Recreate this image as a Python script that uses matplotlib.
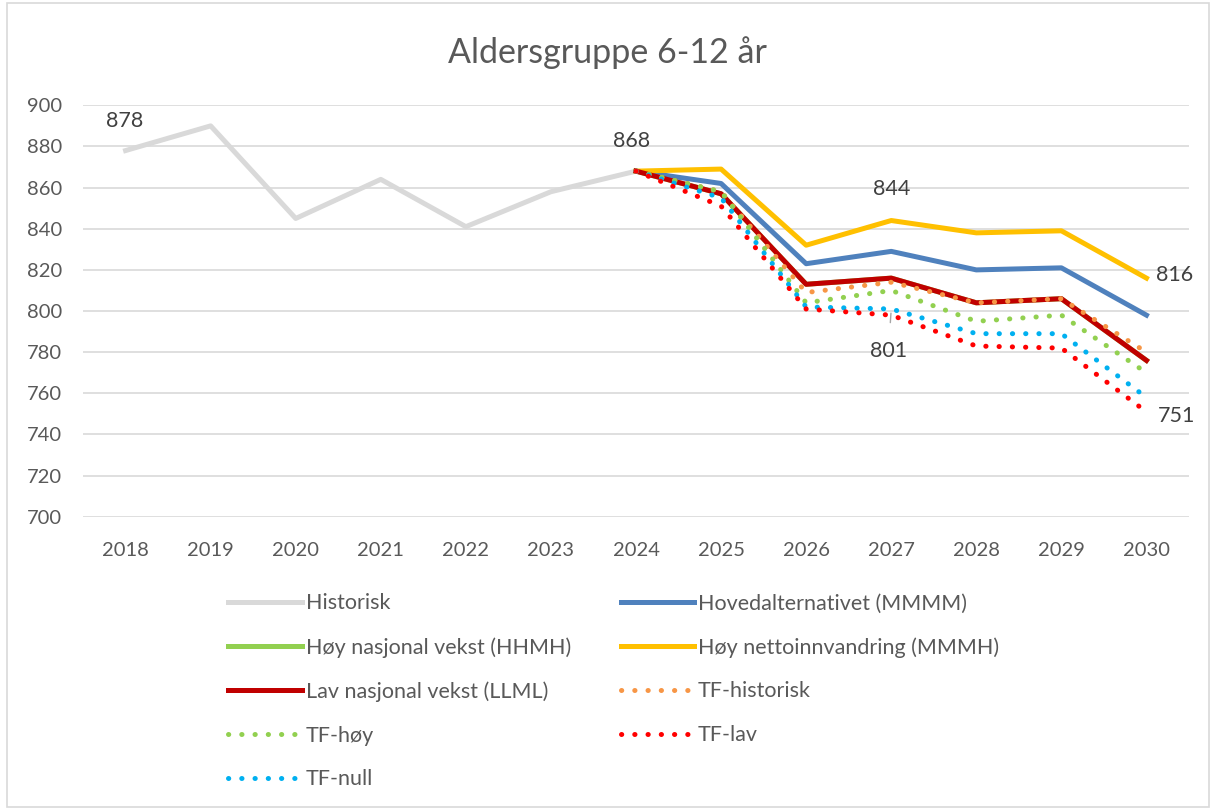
import numpy as np
import matplotlib.pyplot as plt
from matplotlib.patches import Rectangle

plt.rcParams['font.family'] = ['Lato', 'DejaVu Sans']

# ---- data ----
years_hist = [2018, 2019, 2020, 2021, 2022, 2023, 2024]
historisk = [878, 890, 845, 864, 841, 858, 868]

years_proj = [2024, 2025, 2026, 2027, 2028, 2029, 2030]
hoved = [868, 862, 823, 829, 820, 821, 798]
hoy_nasjonal = [868, 857, 813, 816, 804, 806, 776]
hoy_netto = [868, 869, 832, 844, 838, 839, 816]
lav_nasjonal = [868, 857, 813, 816, 804, 806, 776]
tf_historisk = [868, 858, 809, 814, 804, 806, 780]
tf_hoy = [868, 858, 804, 810, 795, 798, 770]
tf_lav = [868, 851, 801, 798, 783, 782, 751]
tf_null = [868, 855, 802, 801, 789, 789, 758]

all_years = list(range(2018, 2031))
title = "Aldersgruppe 6-12 år"

# ---- plot ----
fig = plt.figure(figsize=(12.14, 8.10), dpi=100)
ax = fig.add_axes([0.0684, 0.362, 0.911, 0.508])

lw = 3.6
dot = (0, (0.05, 2.6))
l_hist, = ax.plot(years_hist, historisk, color='#d9d9d9', lw=lw, label='Historisk')
l_hnas, = ax.plot(years_proj, hoy_nasjonal, color='#92d050', lw=lw, label='Høy nasjonal vekst (HHMH)')
l_hoved, = ax.plot(years_proj, hoved, color='#4f81bd', lw=lw, label='Hovedalternativet (MMMM)')
l_hnet, = ax.plot(years_proj, hoy_netto, color='#ffc000', lw=lw, label='Høy nettoinnvandring (MMMH)')
l_lav, = ax.plot(years_proj, lav_nasjonal, color='#c00000', lw=lw, label='Lav nasjonal vekst (LLML)')
l_tfh, = ax.plot(years_proj, tf_historisk, color='#f79646', lw=lw, ls=dot,
                 dash_capstyle='round', label='TF-historisk')
l_tfhoy, = ax.plot(years_proj, tf_hoy, color='#92d050', lw=lw, ls=dot,
                   dash_capstyle='round', label='TF-høy')
l_tfnull, = ax.plot(years_proj, tf_null, color='#00b0f0', lw=lw, ls=dot,
                    dash_capstyle='round', label='TF-null')
l_tflav, = ax.plot(years_proj, tf_lav, color='#ff0000', lw=lw, ls=dot,
                   dash_capstyle='round', label='TF-lav')

ax.set_xlim(2017.5, 2030.5)
ax.set_ylim(700, 900)
ax.set_xticks(all_years)
ax.set_yticks(np.arange(700, 901, 20))
ax.tick_params(length=0, labelsize=14.5, colors='#595959')
ax.tick_params(axis='x', pad=18)
ax.tick_params(axis='y', pad=15)
ax.grid(axis='y', color='#d9d9d9', lw=1.2)
ax.set_axisbelow(True)
for s in ax.spines.values():
    s.set_visible(False)

# data labels
lab = dict(fontsize=15.5, color='#404040')
ax.annotate(f"{historisk[0]}", (2018, historisk[0]), xytext=(-1, 21),
            textcoords='offset points', ha='center', va='center', **lab)
ax.annotate(f"{historisk[-1]}", (2024, historisk[-1]), xytext=(-3, 22),
            textcoords='offset points', ha='center', va='center', **lab)
ax.annotate(f"{hoy_netto[3]}", (2027, hoy_netto[3]), xytext=(0, 23),
            textcoords='offset points', ha='center', va='center', **lab)
ax.annotate(f"{hoy_netto[-1]}", (2030, hoy_netto[-1]), xytext=(20, 2),
            textcoords='offset points', ha='center', va='center', **lab)
ax.annotate(f"{tf_null[3]}", (2027, tf_null[3]), xytext=(-2, -30),
            textcoords='offset points', ha='center', va='center',
            arrowprops=dict(arrowstyle='-', color='#a6a6a6', lw=1,
                            shrinkA=11, shrinkB=3), **lab)
ax.annotate(f"{tf_lav[-1]}", (2030, tf_lav[-1]), xytext=(22, -3),
            textcoords='offset points', ha='center', va='center', **lab)

fig.suptitle(title, y=0.955, fontsize=24.5, color='#595959')

handles = [l_hist, l_hnas, l_lav, l_tfhoy, l_tfnull,
           l_hoved, l_hnet, l_tfh, l_tflav]
leg = fig.legend(handles=handles, labels=[h.get_label() for h in handles],
                 ncol=2, loc='upper left', bbox_to_anchor=(0.181, 0.278),
                 frameon=False, fontsize=15.5, handlelength=3.4,
                 handletextpad=0.2, columnspacing=2.3, labelspacing=1.1,
                 borderaxespad=0)
for t in leg.get_texts():
    t.set_color('#595959')

fig.add_artist(Rectangle((0.006, 0.004), 0.99, 0.992, transform=fig.transFigure,
                         fill=False, edgecolor='#d9d9d9', lw=1.2))

fig.savefig("out.png", dpi=100)
